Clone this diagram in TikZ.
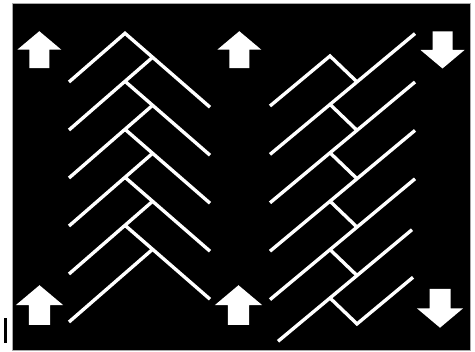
\documentclass[tikz,border=0pt]{standalone}
\usepackage{tikz}
\definecolor{edgex}{HTML}{A8A8A8}
\tikzset{
  hb/.style={white,line width=4.8pt},
  bgbox/.style={fill=black,draw=edgex,line width=0.8pt},
  blkarr/.pic={\fill[white] (0,-18.5)--(22,0)--(10,0)--(10,18.5)--(-10,18.5)--(-10,0)--(-22,0)--cycle;}
}
\begin{document}
\begin{tikzpicture}[x=0.05cm,y=-0.05cm]
\fill[white] (0,0) rectangle (475,352);
\useasboundingbox (0,0) rectangle (475,352);
\draw[bgbox] (12,3) rectangle (470,350);
\fill[black] (4,318) rectangle (6.7,343);
% left pattern
\draw[hb] (69,82)--(125,33.3)--(210,107.2);
\foreach \i in {1,...,5}{
  \pgfmathsetmacro\yy{82+48*\i}
  \draw[hb] (69,\yy)--(152.6,\yy-72.7);
}
\foreach \j in {1,...,4}{
  \pgfmathsetmacro\yy{82+48*\j}
  \draw[hb] (125,\yy-48.7)--(210,\yy+25.2);
}
% right pattern
\draw[hb] (270,106)--(330,56)--(357,81.9);
\foreach \k in {1,...,4}{
  \pgfmathsetmacro\cc{106+48.4*\k}
  \draw[hb] (270,\cc)--(415,\cc-120.8);
  \draw[hb] (330,\cc-50)--(357,\cc-24.1);
}
\draw[hb] (278,341.3)--(412,229.7);
\draw[hb] (330,298)--(357,323.9)--(413,277.3);
% arrows
\pic at (39.3,49.7) {blkarr};
\pic at (239.3,49.7) {blkarr};
\pic[scale=1.07] at (39.5,305) {blkarr};
\pic[scale=1.07] at (238.5,305) {blkarr};
\pic[rotate=180] at (442.5,50) {blkarr};
\pic[rotate=180,scale=1.05] at (440,308.3) {blkarr};
\end{tikzpicture}
\end{document}
